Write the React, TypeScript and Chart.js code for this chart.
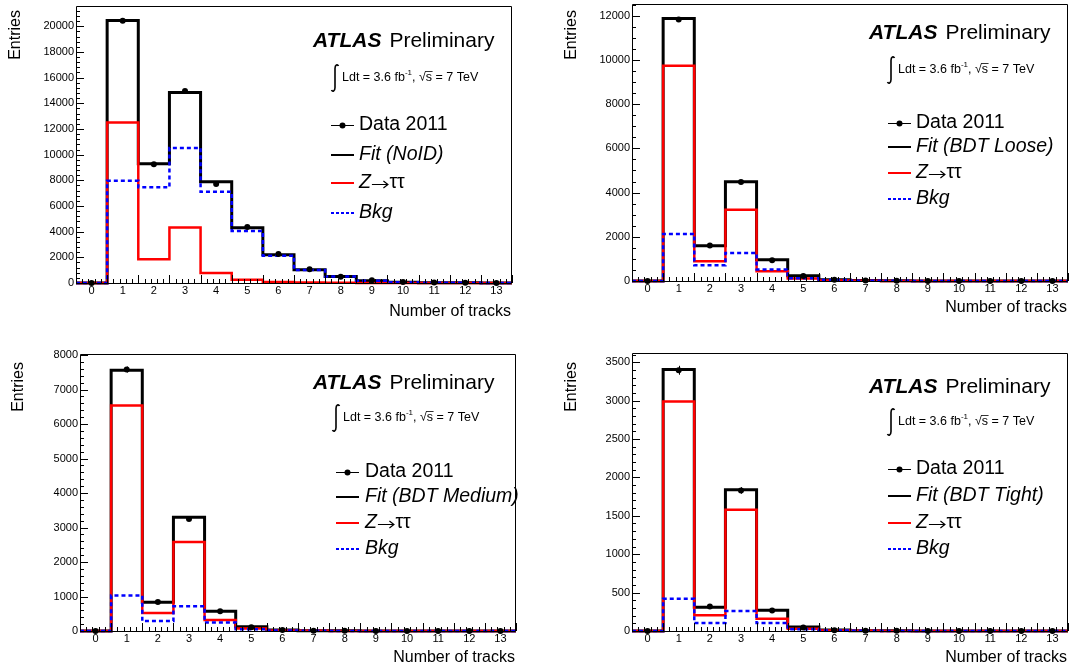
import React, { useEffect, useRef } from "react";
import { Chart, registerables } from "chart.js";

Chart.register(...registerables);

// Track multiplicity bins (bin centres)
const NTRACKS = [0, 1, 2, 3, 4, 5, 6, 7, 8, 9, 10, 11, 12, 13];

// No identification
const DATA_NOID = [0, 20440, 9260, 14960, 7720, 4370, 2260, 1080, 490, 210, 70, 30, 15, 8];
const FIT_NOID = [0, 20460, 9300, 14840, 7880, 4310, 2210, 1040, 510, 180, 60, 25, 12, 6];
const SIG_NOID = [0, 12500, 1860, 4330, 780, 250, 80, 30, 10, 5, 2, 1, 0, 0];
const BKG_NOID = [0, 7960, 7450, 10520, 7100, 4060, 2130, 1010, 500, 175, 58, 24, 12, 6];

// BDT loose
const DATA_LOOSE = [0, 11830, 1610, 4480, 940, 230, 60, 20, 8, 4, 2, 1, 0, 0];
const FIT_LOOSE = [0, 11870, 1600, 4490, 960, 240, 60, 20, 8, 4, 2, 1, 0, 0];
const SIG_LOOSE = [0, 9740, 890, 3220, 440, 110, 20, 6, 2, 1, 0, 0, 0, 0];
const BKG_LOOSE = [0, 2130, 710, 1270, 520, 130, 40, 14, 6, 3, 2, 1, 0, 0];

// BDT medium
const DATA_MEDIUM = [0, 7580, 840, 3250, 570, 110, 30, 10, 4, 2, 1, 0, 0, 0];
const FIT_MEDIUM = [0, 7560, 830, 3300, 570, 120, 30, 10, 4, 2, 1, 0, 0, 0];
const SIG_MEDIUM = [0, 6540, 520, 2580, 320, 70, 15, 5, 2, 1, 0, 0, 0, 0];
const BKG_MEDIUM = [0, 1030, 290, 720, 250, 50, 15, 5, 2, 1, 1, 0, 0, 0];

// BDT tight
const DATA_TIGHT = [0, 3395, 318, 1830, 268, 45, 10, 4, 2, 1, 0, 0, 0, 0];
const FIT_TIGHT = [0, 3405, 310, 1840, 270, 52, 12, 4, 2, 1, 0, 0, 0, 0];
const SIG_TIGHT = [0, 2990, 205, 1580, 160, 30, 6, 2, 1, 0, 0, 0, 0, 0];
const BKG_TIGHT = [0, 420, 104, 260, 104, 22, 6, 2, 1, 1, 0, 0, 0, 0];

// Y axis tick labels
const YTICKS_NOID = [0, 2000, 4000, 6000, 8000, 10000, 12000, 14000, 16000, 18000, 20000];
const YTICKS_LOOSE = [0, 2000, 4000, 6000, 8000, 10000, 12000];
const YTICKS_MEDIUM = [0, 1000, 2000, 3000, 4000, 5000, 6000, 7000, 8000];
const YTICKS_TIGHT = [0, 500, 1000, 1500, 2000, 2500, 3000, 3500];

const FONT = "'Liberation Sans', Arial, Helvetica, sans-serif";

type Box = { left: number; top: number; width: number; height: number };
type Area = { left: number; top: number; right: number; bottom: number };
type PanelSpec = {
  id: string;
  fitLabel: string;
  data: number[];
  fit: number[];
  sig: number[];
  bkg: number[];
  yTicks: number[];
  yMax: number;
  yMinor: number;
  box: Box;
  area: Area;
  atlas: { x: number; y: number };
  lumi: { x: number; y: number };
  legend: { mx: number; tx: number; rows: number[] };
  ytitle: { x: number; y: number };
  xtitle: { x: number; y: number };
};

const PANELS: PanelSpec[] = [
  {
    id: "noid",
    fitLabel: "Fit (NoID)",
    data: DATA_NOID, fit: FIT_NOID, sig: SIG_NOID, bkg: BKG_NOID,
    yTicks: YTICKS_NOID, yMax: 21580, yMinor: 400,
    box: { left: 0, top: 0, width: 536, height: 335 },
    area: { left: 76, top: 6, right: 512, bottom: 283 },
    atlas: { x: 313, y: 41 },
    lumi: { x: 335, y: 78 },
    legend: { mx: 331, tx: 359, rows: [125, 155, 183, 213] },
    ytitle: { x: 16, y: 10 },
    xtitle: { x: 511, y: 312 },
  },
  {
    id: "loose",
    fitLabel: "Fit (BDT Loose)",
    data: DATA_LOOSE, fit: FIT_LOOSE, sig: SIG_LOOSE, bkg: BKG_LOOSE,
    yTicks: YTICKS_LOOSE, yMax: 12530, yMinor: 500,
    box: { left: 536, top: 0, width: 536, height: 335 },
    area: { left: 632, top: 3, right: 1068, bottom: 281 },
    atlas: { x: 869, y: 33 },
    lumi: { x: 891, y: 70 },
    legend: { mx: 888, tx: 916, rows: [123, 147, 173, 199] },
    ytitle: { x: 572, y: 10 },
    xtitle: { x: 1067, y: 308 },
  },
  {
    id: "medium",
    fitLabel: "Fit (BDT Medium)",
    data: DATA_MEDIUM, fit: FIT_MEDIUM, sig: SIG_MEDIUM, bkg: BKG_MEDIUM,
    yTicks: YTICKS_MEDIUM, yMax: 8030, yMinor: 200,
    box: { left: 0, top: 335, width: 536, height: 336 },
    area: { left: 80, top: 354, right: 516, bottom: 631 },
    atlas: { x: 313, y: 383 },
    lumi: { x: 336, y: 418 },
    legend: { mx: 336, tx: 365, rows: [472, 497, 523, 549] },
    ytitle: { x: 19, y: 362 },
    xtitle: { x: 515, y: 658 },
  },
  {
    id: "tight",
    fitLabel: "Fit (BDT Tight)",
    data: DATA_TIGHT, fit: FIT_TIGHT, sig: SIG_TIGHT, bkg: BKG_TIGHT,
    yTicks: YTICKS_TIGHT, yMax: 3620, yMinor: 100,
    box: { left: 536, top: 335, width: 536, height: 336 },
    area: { left: 632, top: 353, right: 1068, bottom: 631 },
    atlas: { x: 869, y: 387 },
    lumi: { x: 891, y: 422 },
    legend: { mx: 888, tx: 916, rows: [469, 496, 523, 549] },
    ytitle: { x: 572, y: 362 },
    xtitle: { x: 1067, y: 658 },
  },
];

// Histogram outline: each bin contributes its low and high edge at the bin content
const histPoints = (values: number[]) =>
  values.flatMap((v, i) => [
    { x: NTRACKS[i] - 0.5, y: v },
    { x: NTRACKS[i] + 0.5, y: v },
  ]);

function drawLumi(ctx: CanvasRenderingContext2D, x: number, cy: number) {
  ctx.save();
  ctx.strokeStyle = "#000";
  ctx.fillStyle = "#000";
  ctx.lineWidth = 1.6;
  const top = cy - 13.5;
  const bot = cy + 13.5;
  ctx.beginPath();
  ctx.moveTo(x + 3.5, top + 1.5);
  ctx.bezierCurveTo(x + 2.5, top - 0.5, x, top, x, top + 4);
  ctx.lineTo(x, bot - 4);
  ctx.bezierCurveTo(x, bot, x - 2.5, bot + 0.5, x - 3.5, bot - 1.5);
  ctx.stroke();

  const f = `12.5px ${FONT}`;
  const fs = `8px ${FONT}`;
  ctx.textAlign = "left";
  ctx.textBaseline = "middle";
  let tx = x + 7;
  const put = (s: string, font: string, dy = 0) => {
    ctx.font = font;
    ctx.fillText(s, tx, cy + dy);
    tx += ctx.measureText(s).width;
  };
  put("Ldt = 3.6 fb", f);
  put("-1", fs, -5);
  put(", ", f);
  put("\u221A", f);
  const sx = tx;
  put("s", f);
  ctx.lineWidth = 0.8;
  ctx.beginPath();
  ctx.moveTo(sx - 0.5, cy - 6.5);
  ctx.lineTo(tx + 0.5, cy - 6.5);
  ctx.stroke();
  put(" = 7 TeV", f);
  ctx.restore();
}

function makeOverlay(spec: PanelSpec) {
  const ox = spec.box.left;
  const oy = spec.box.top;
  return {
    id: "atlasOverlay",
    afterDatasetsDraw(chart: any) {
      const { ctx, chartArea: a } = chart;
      const xs = chart.scales.x;
      const ys = chart.scales.y;
      ctx.save();
      ctx.strokeStyle = "#000";
      ctx.lineWidth = 1;

      // Poisson error bars on the data points
      spec.data.forEach((v, i) => {
        if (v <= 0) return;
        const e = Math.sqrt(v);
        const px = Math.round(xs.getPixelForValue(NTRACKS[i])) + 0.5;
        ctx.beginPath();
        ctx.moveTo(px, ys.getPixelForValue(v - e));
        ctx.lineTo(px, ys.getPixelForValue(v + e));
        ctx.stroke();
      });

      // Frame
      ctx.beginPath();
      ctx.moveTo(a.left + 0.5, a.top + 0.5);
      ctx.lineTo(a.right - 0.5, a.top + 0.5);
      ctx.lineTo(a.right - 0.5, a.bottom + 0.5);
      ctx.lineTo(a.left + 0.5, a.bottom + 0.5);
      ctx.closePath();
      ctx.stroke();

      // Y ticks, drawn inward
      const yStep = spec.yTicks[1] - spec.yTicks[0];
      for (let k = 0; k * spec.yMinor <= spec.yMax; k++) {
        const v = k * spec.yMinor;
        const major = v % yStep === 0;
        const py = Math.round(ys.getPixelForValue(v)) + 0.5;
        ctx.beginPath();
        ctx.moveTo(a.left, py);
        ctx.lineTo(a.left + (major ? 8 : 4), py);
        ctx.stroke();
      }
      // X ticks: major at bin edges, minor every 0.2
      for (let k = 0; k <= 70; k++) {
        const v = -0.5 + k * 0.2;
        const major = k % 5 === 0;
        const px = Math.round(xs.getPixelForValue(v)) + 0.5;
        ctx.beginPath();
        ctx.moveTo(px, a.bottom);
        ctx.lineTo(px, a.bottom - (major ? 8 : 4));
        ctx.stroke();
      }
      ctx.restore();
    },
    afterDraw(chart: any) {
      const ctx: CanvasRenderingContext2D = chart.ctx;
      ctx.save();
      ctx.fillStyle = "#000";
      ctx.strokeStyle = "#000";
      ctx.textBaseline = "middle";
      ctx.textAlign = "left";

      // ATLAS Preliminary
      const ax = spec.atlas.x - ox;
      const ay = spec.atlas.y - oy;
      ctx.font = `italic bold 21px ${FONT}`;
      ctx.fillText("ATLAS", ax, ay);
      const aw = ctx.measureText("ATLAS").width;
      ctx.font = `21px ${FONT}`;
      ctx.fillText("Preliminary", ax + aw + 8, ay);

      drawLumi(ctx, spec.lumi.x - ox, spec.lumi.y - oy);

      // Legend
      const mx = spec.legend.mx - ox;
      const tx = spec.legend.tx - ox;
      const rows = spec.legend.rows.map((r) => r - oy);
      const f = `19.5px ${FONT}`;
      const fi = `italic 19.5px ${FONT}`;

      // Data 2011
      ctx.lineWidth = 1;
      ctx.beginPath();
      ctx.moveTo(mx, rows[0] + 0.5);
      ctx.lineTo(mx + 23, rows[0] + 0.5);
      ctx.stroke();
      ctx.beginPath();
      ctx.arc(mx + 11.5, rows[0] + 0.5, 3, 0, Math.PI * 2);
      ctx.fill();
      ctx.font = f;
      ctx.fillText("Data 2011", tx, rows[0]);

      // Fit
      ctx.lineWidth = 2;
      ctx.beginPath();
      ctx.moveTo(mx, rows[1]);
      ctx.lineTo(mx + 23, rows[1]);
      ctx.stroke();
      ctx.font = fi;
      ctx.fillText(spec.fitLabel, tx, rows[1]);

      // Signal: Z -> tau tau
      ctx.strokeStyle = "#ff0000";
      ctx.beginPath();
      ctx.moveTo(mx, rows[2]);
      ctx.lineTo(mx + 23, rows[2]);
      ctx.stroke();
      ctx.font = fi;
      ctx.fillText("Z", tx, rows[2]);
      const zw = ctx.measureText("Z").width;
      const arX0 = tx + zw + 1;
      const arX1 = arX0 + 16;
      const arY = rows[2] + 1.5;
      ctx.strokeStyle = "#000";
      ctx.lineWidth = 1.2;
      ctx.beginPath();
      ctx.moveTo(arX0, arY);
      ctx.lineTo(arX1, arY);
      ctx.moveTo(arX1 - 4.5, arY - 3.5);
      ctx.lineTo(arX1, arY);
      ctx.lineTo(arX1 - 4.5, arY + 3.5);
      ctx.stroke();
      ctx.font = f;
      ctx.fillText("\u03C4\u03C4", arX1 + 1.5, rows[2]);

      // Background
      ctx.strokeStyle = "#0000ff";
      ctx.lineWidth = 2;
      ctx.setLineDash([3, 2]);
      ctx.beginPath();
      ctx.moveTo(mx, rows[3]);
      ctx.lineTo(mx + 23, rows[3]);
      ctx.stroke();
      ctx.setLineDash([]);
      ctx.font = fi;
      ctx.fillText("Bkg", tx, rows[3]);

      // Axis titles
      ctx.font = `16px ${FONT}`;
      ctx.textAlign = "right";
      ctx.fillText("Number of tracks", spec.xtitle.x - ox, spec.xtitle.y - oy);
      ctx.save();
      ctx.translate(spec.ytitle.x - ox, spec.ytitle.y - oy);
      ctx.rotate(-Math.PI / 2);
      ctx.textAlign = "right";
      ctx.fillText("Entries", 0, 0);
      ctx.restore();

      ctx.restore();
    },
  };
}

function HistPanel({ spec }: { spec: PanelSpec }) {
  const ref = useRef<HTMLCanvasElement>(null);

  useEffect(() => {
    const canvas = ref.current;
    if (!canvas) return;
    const { box, area } = spec;
    const yWidth = area.left - box.left;
    const xHeight = box.top + box.height - area.bottom;

    const line = (values: number[], color: string, width: number, dash: number[] = []) => ({
      data: histPoints(values),
      borderColor: color,
      borderWidth: width,
      borderDash: dash,
      borderJoinStyle: "miter" as const,
      borderCapStyle: "butt" as const,
      pointRadius: 0,
      tension: 0,
      fill: false,
      clip: false as const,
    });

    const chart = new Chart(canvas, {
      type: "line",
      data: {
        datasets: [
          {
            data: NTRACKS.map((n, i) => ({ x: n, y: spec.data[i] })),
            showLine: false,
            pointRadius: 3,
            pointBackgroundColor: "#000",
            pointBorderColor: "#000",
            pointBorderWidth: 0,
            clip: false as const,
          },
          line(spec.bkg, "#0000ff", 2.5, [4, 3]),
          line(spec.sig, "#ff0000", 2.5),
          line(spec.fit, "#000000", 3),
        ],
      },
      options: {
        responsive: false,
        animation: false,
        events: [],
        layout: {
          padding: {
            left: 0,
            top: area.top - box.top,
            right: box.left + box.width - area.right,
            bottom: 0,
          },
        },
        plugins: {
          legend: { display: false },
          tooltip: { enabled: false },
        },
        scales: {
          x: {
            type: "linear",
            min: -0.5,
            max: 13.5,
            grid: { display: false, drawTicks: false },
            border: { display: false },
            ticks: {
              color: "#000",
              font: { family: FONT, size: 11 },
              padding: 1,
              autoSkip: false,
              maxRotation: 0,
              callback: (v: any) => String(v),
            },
            afterBuildTicks: (s: any) => {
              s.ticks = NTRACKS.map((v) => ({ value: v }));
            },
            afterFit: (s: any) => {
              s.height = xHeight;
              s.paddingLeft = 0;
              s.paddingRight = 0;
              s.paddingTop = 0;
              s.paddingBottom = 0;
            },
          },
          y: {
            type: "linear",
            min: 0,
            max: spec.yMax,
            grid: { display: false, drawTicks: false },
            border: { display: false },
            ticks: {
              color: "#000",
              font: { family: FONT, size: 11 },
              padding: 2,
              callback: (v: any) => String(v),
            },
            afterBuildTicks: (s: any) => {
              s.ticks = spec.yTicks.map((v) => ({ value: v }));
            },
            afterFit: (s: any) => {
              s.width = yWidth;
              s.paddingLeft = 0;
              s.paddingRight = 0;
              s.paddingTop = 0;
              s.paddingBottom = 0;
            },
          },
        },
      } as any,
      plugins: [makeOverlay(spec)],
    });
    return () => chart.destroy();
  }, [spec]);

  return (
    <canvas
      ref={ref}
      width={spec.box.width}
      height={spec.box.height}
      style={{
        position: "absolute",
        left: spec.box.left,
        top: spec.box.top,
        width: spec.box.width,
        height: spec.box.height,
      }}
    />
  );
}

export default function App() {
  return (
    <div>
      {PANELS.map((p) => (
        <HistPanel key={p.id} spec={p} />
      ))}
    </div>
  );
}
